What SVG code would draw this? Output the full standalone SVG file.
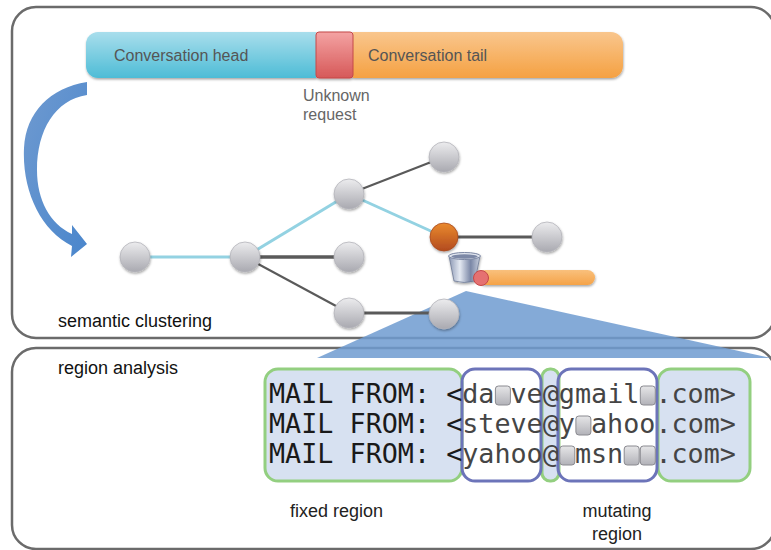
<svg xmlns="http://www.w3.org/2000/svg" width="771" height="550" viewBox="0 0 771 550">
<defs>
  <linearGradient id="gHead" x1="0" y1="0" x2="0" y2="1"><stop offset="0" stop-color="#a9deec"/><stop offset="1" stop-color="#4dbcd6"/></linearGradient>
  <linearGradient id="gTail" x1="0" y1="0" x2="0" y2="1"><stop offset="0" stop-color="#f9c68d"/><stop offset="1" stop-color="#f5a142"/></linearGradient>
  <linearGradient id="gRed" x1="0" y1="0" x2="0" y2="1"><stop offset="0" stop-color="#f4a3a3"/><stop offset="1" stop-color="#d65858"/></linearGradient>
  <linearGradient id="gArrow" x1="0" y1="0" x2="1" y2="1"><stop offset="0" stop-color="#6f9ad0"/><stop offset="1" stop-color="#4a86cc"/></linearGradient>
  <linearGradient id="gNode" x1="0" y1="0" x2="0" y2="1"><stop offset="0" stop-color="#ececee"/><stop offset="1" stop-color="#a9a9b0"/></linearGradient>
  <linearGradient id="gOrange" x1="0" y1="0" x2="0" y2="1"><stop offset="0" stop-color="#ea8a2e"/><stop offset="1" stop-color="#b24a1e"/></linearGradient>
  <linearGradient id="gBar" x1="0" y1="0" x2="0" y2="1"><stop offset="0" stop-color="#f9c07c"/><stop offset="1" stop-color="#f5a348"/></linearGradient>
  <linearGradient id="gCan" x1="0" y1="0" x2="1" y2="0"><stop offset="0" stop-color="#8c98b4"/><stop offset="0.35" stop-color="#e4e9f2"/><stop offset="0.7" stop-color="#7a87a6"/><stop offset="1" stop-color="#c9d0de"/></linearGradient>
  <linearGradient id="gChar" x1="0" y1="0" x2="0" y2="1"><stop offset="0" stop-color="#e6e6e8"/><stop offset="1" stop-color="#b2b2b8"/></linearGradient>
  <filter id="sh" x="-30%" y="-30%" width="160%" height="160%"><feDropShadow dx="0.5" dy="1.5" stdDeviation="1.3" flood-color="#000" flood-opacity="0.35"/></filter>
</defs>
<style>
  .box{fill:#fff;stroke:#6b6b6b;stroke-width:2.5}
  .lbl{font-family:"Liberation Sans",Arial,sans-serif}
  .node{fill:url(#gNode);stroke:#b4b4ba;stroke-width:0.8;filter:url(#sh)}
  .eB{stroke:#93d2e2;stroke-width:3;fill:none}
  .eG{stroke:#5a5a5a;fill:none}
  .rg{fill:#d7e1f1;stroke:#93cf80;stroke-width:3}
  .rb{fill:none;stroke:#6c74b9;stroke-width:3}
  .mono{font-family:"DejaVu Sans Mono","Liberation Mono",monospace;font-size:26.75px}
  .ch{fill:url(#gChar);stroke:#8a8a90;stroke-width:1}
</style>

<g id="panel-top">
  <rect class="box" x="12" y="7" width="763" height="331" rx="24"/>
</g>
<g id="panel-bottom">
  <rect class="box" x="12" y="348" width="763" height="201" rx="24"/>
</g>

<g id="conversation-bar" filter="url(#sh)">
  <path d="M98,32 H316 V78 H98 A12,12 0 0 1 86,66 V44 A12,12 0 0 1 98,32 Z" fill="url(#gHead)"/>
  <path d="M353,32 H611 A12,12 0 0 1 623,44 V66 A12,12 0 0 1 611,78 H353 Z" fill="url(#gTail)"/>
  <rect x="316" y="32" width="37" height="46" rx="3" fill="url(#gRed)" stroke="#c44848" stroke-width="1"/>
</g>
<g id="bar-labels" class="lbl">
  <text x="114" y="61" font-size="16" fill="#555">Conversation head</text>
  <text x="368" y="61" font-size="16" fill="#555">Conversation tail</text>
  <text x="303" y="101" font-size="16" fill="#666">Unknown</text>
  <text x="303" y="120" font-size="16" fill="#666">request</text>
</g>

<g id="curved-arrow">
  <path d="M87,82 C50,88 26,112 24,148 C22,190 40,230 72,246 L71,257 L87,244 L72,225 L72,234 C50,224 37,200 37,170 C37,130 55,100 87,95 Z" fill="url(#gArrow)"/>
</g>

<g id="zoom-triangle">
  <polygon points="466,291 317,358 771,358" fill="#6f9bd0" fill-opacity="0.85"/>
</g>

<g id="connectors">
  <line class="eB" x1="135" y1="257" x2="245" y2="257"/>
  <line class="eB" x1="245" y1="257" x2="349" y2="194"/>
  <line class="eB" x1="349" y1="194" x2="444" y2="237"/>
  <line class="eG" stroke-width="3.5" x1="245" y1="257" x2="349" y2="257"/>
  <line class="eG" stroke-width="2.2" x1="245" y1="257" x2="349" y2="313"/>
  <line class="eG" stroke-width="2.2" x1="349" y1="194" x2="444" y2="157"/>
  <line class="eG" stroke-width="3.2" x1="444" y1="237" x2="547" y2="237"/>
  <line class="eG" stroke-width="3.2" x1="349" y1="313" x2="444" y2="313"/>
</g>

<g id="n1"><circle class="node" cx="135" cy="257" r="15"/></g>
<g id="n2"><circle class="node" cx="245" cy="257" r="15"/></g>
<g id="n3"><circle class="node" cx="349" cy="194" r="15"/></g>
<g id="n4"><circle class="node" cx="349" cy="257" r="15"/></g>
<g id="n5"><circle class="node" cx="349" cy="313" r="15"/></g>
<g id="n6"><circle class="node" cx="444" cy="157" r="15"/></g>
<g id="n7"><circle cx="444" cy="237" r="14" fill="url(#gOrange)" stroke="#a84a20" stroke-width="0.8" filter="url(#sh)"/></g>
<g id="n8"><circle class="node" cx="547" cy="237" r="15"/></g>
<g id="n9"><circle class="node" cx="444" cy="314" r="15"/></g>

<g id="discarded-tail">
  <g id="trash-can" filter="url(#sh)">
    <path d="M449,256 L480,256 L475,281 Q464,284 454,281 Z" fill="url(#gCan)" stroke="#6f7b96" stroke-width="0.8"/>
    <ellipse cx="464.5" cy="256" rx="16" ry="3.5" fill="#dfe4ee" stroke="#7a86a2" stroke-width="1"/>
    <ellipse cx="464.5" cy="256.5" rx="13" ry="2.2" fill="#7c88a6"/>
  </g>
  <rect x="478" y="270" width="117" height="15" rx="7.5" fill="url(#gBar)" filter="url(#sh)"/>
  <circle cx="481" cy="278" r="7.5" fill="#e57171" stroke="#c44848" stroke-width="1"/>
</g>

<g id="section-labels" class="lbl" fill="#111" font-size="18">
  <text x="58" y="327">semantic clustering</text>
  <text x="58" y="374">region analysis</text>
</g>

<g id="regions">
  <rect class="rg" x="265" y="369" width="197" height="112" rx="13"/>
  <rect class="rg" x="542" y="369" width="17" height="112" rx="8"/>
  <rect class="rg" x="658" y="369" width="92" height="112" rx="13"/>
  <rect class="rb" x="462" y="369" width="79" height="112" rx="13"/>
  <rect class="rb" x="558" y="369" width="99" height="112" rx="13"/>
</g>

<g id="placeholders">
  <rect class="ch" x="495.4" y="386" width="15" height="19" rx="3"/>
  <rect class="ch" x="640.3" y="386" width="15" height="19" rx="3"/>
  <rect class="ch" x="575.9" y="416" width="15" height="19" rx="3"/>
  <rect class="ch" x="559.8" y="446" width="15" height="19" rx="3"/>
  <rect class="ch" x="624.2" y="446" width="15" height="19" rx="3"/>
  <rect class="ch" x="640.3" y="446" width="15" height="19" rx="3"/>
</g>

<g id="mail-lines" class="mono">
  <text y="403"><tspan x="269" fill="#1a1a1a">MAIL FROM: &lt;</tspan><tspan x="462.2" fill="#454545">da</tspan><tspan x="510.5" fill="#454545">ve@gmail</tspan><tspan x="655.4" fill="#454545">.com&gt;</tspan></text>
  <text y="433"><tspan x="269" fill="#1a1a1a">MAIL FROM: &lt;</tspan><tspan x="462.2" fill="#454545">steve@y</tspan><tspan x="591" fill="#454545">ahoo.com&gt;</tspan></text>
  <text y="463"><tspan x="269" fill="#1a1a1a">MAIL FROM: &lt;</tspan><tspan x="462.2" fill="#454545">yahoo@</tspan><tspan x="574.9" fill="#454545">msn</tspan><tspan x="655.4" fill="#454545">.com&gt;</tspan></text>
</g>

<g id="region-labels" class="lbl" fill="#222" font-size="18">
  <text x="290" y="517">fixed region</text>
  <text x="617" y="517" text-anchor="middle">mutating</text>
  <text x="617" y="540" text-anchor="middle">region</text>
</g>
</svg>
